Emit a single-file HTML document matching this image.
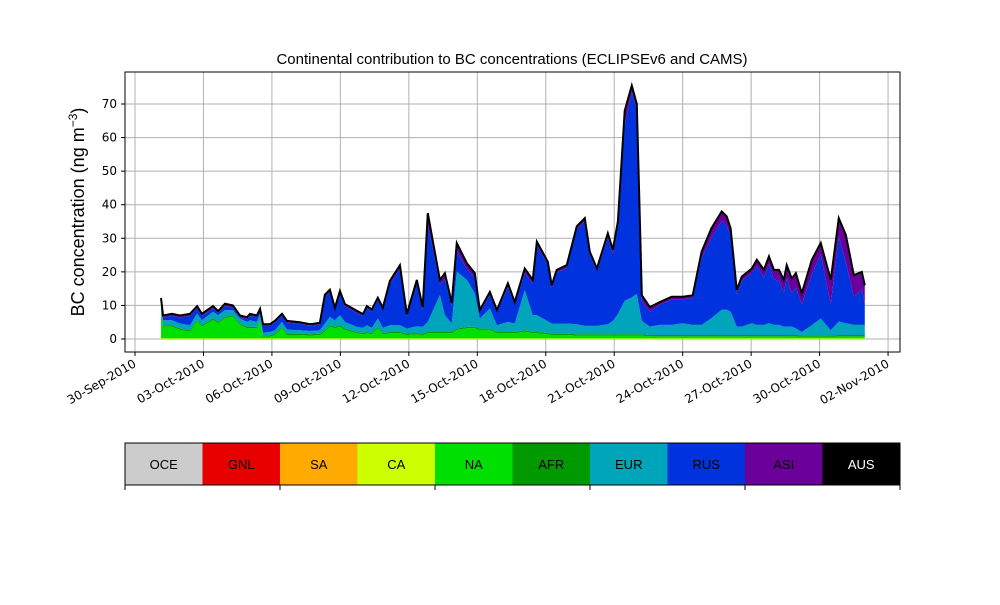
<!DOCTYPE html>
<html><head><meta charset="utf-8"><style>
body{margin:0;background:#fff}
svg{font-family:"Liberation Sans","DejaVu Sans",sans-serif}
</style></head><body>
<svg id="chart" width="1000" height="600" viewBox="0 0 1000 600">
<rect width="1000" height="600" fill="#fff"/>
<g id="plot"></g>
<text x="512" y="64" text-anchor="middle" font-size="15">Continental contribution to BC concentrations (ECLIPSEv6 and CAMS)</text>
<text transform="translate(84,212) rotate(-90)" text-anchor="middle" font-size="18">BC concentration (ng m<tspan baseline-shift="super" font-size="12">−3</tspan>)</text>
<g id="legend"></g>
</svg>
<script>
const times=[1.14,1.23,1.62,1.97,2.41,2.72,2.93,3.42,3.64,3.94,4.29,4.60,4.91,5.04,5.34,5.48,5.61,5.91,6.13,6.44,6.66,7.23,7.67,8.10,8.32,8.54,8.76,8.98,9.20,9.72,9.99,10.16,10.38,10.64,10.86,11.17,11.61,11.91,12.35,12.61,12.83,13.36,13.58,13.88,14.10,14.54,14.89,15.11,15.55,15.86,16.34,16.64,17.08,17.43,17.61,18.09,18.26,18.48,18.92,19.36,19.71,19.93,20.24,20.72,20.94,21.16,21.46,21.77,21.99,22.21,22.56,23.00,23.52,24.00,24.44,24.83,25.26,25.71,25.93,26.10,26.37,26.59,27.03,27.25,27.56,27.78,28.00,28.22,28.43,28.56,28.78,28.96,29.22,29.66,30.05,30.49,30.84,31.15,31.50,31.85,31.98];
const naVals=[8,3.5,3.5,2.5,2,5,3.5,5.5,4.5,6,6.5,4,3,3,3,5,0.5,0.5,1,3,1,1,0.8,1,2,3.5,3,3.5,2.5,1.5,1.2,1.5,1.2,3,1.2,1.5,1.5,1,1.2,1,1.5,1.5,1.5,1.5,2.5,3,3,2.5,2.5,1.5,1.5,1.5,2,1.5,1.5,1.2,1,1,1,0.8,0.8,0.8,0.8,0.8,0.8,0.8,0.8,0.8,0.8,0.8,0.6,0.6,0.6,0.6,0.6,0.6,0.6,0.6,0.6,0.6,0.6,0.6,0.6,0.6,0.6,0.6,0.6,0.6,0.6,0.6,0.6,0.6,0.5,0.5,0.5,0.5,0.6,0.6,0.6,0.6,0.6];
const eurVals=[2,1.5,1.5,1.5,1.5,2,1.5,2,2,2,1.5,1.5,1.5,2,1.5,2,0.8,1,1,1.5,1.2,1,1,1,2,2.5,2,3,2,1.5,1.5,2,1.5,2.5,1.5,2,2,1.5,2,2,3,11,5,2.5,17,14,10,3,6,2,3,2.5,12,5,5,3.5,3,3,3,3,2.5,2.5,2.5,3,4,6,10,11,12,4,2.5,3,3,3.5,3,3,5,7.5,7.5,7,2.5,2.5,3.5,3,3,3.5,3,3,2.5,2.5,2.5,2,1,3,5,1.5,4,3.5,3,3,3];
const rusVals=[1.0,0.9,1.3,1.8,2.8,1.6,1.3,1.1,0.6,1.2,0.7,0.3,0.8,1.3,1.3,0.8,2.0,1.8,2.3,1.9,2.1,1.9,1.5,1.7,7.9,7.4,3.1,6.5,4.6,4.2,3.5,5.1,4.9,5.5,5.4,12.3,16.8,3.7,12.9,5.2,29.1,3.2,10.7,5.3,6.2,3.2,4.7,1.9,4,3.8,10.4,5.6,5.1,9.4,20.8,16.9,10.7,15.2,16.6,28.3,31.2,21.3,16.3,25.8,19.9,26.3,52.3,61.3,54.8,5.8,4.5,6,7.6,7.1,8,20,24,26.5,25,22.5,9.6,13.6,15,17.6,14.1,17.6,13.6,13.1,10.1,14.5,10,12.1,8.2,15.2,19.2,7.7,25.5,18,8.5,10.5,6.5];
const asiVals=[0.3,0.2,0.3,0.3,0.3,0.3,0.3,0.3,0.3,0.4,0.4,0.3,0.3,0.3,0.3,0.3,0.2,0.2,0.2,0.2,0.2,0.2,0.2,0.2,0.4,0.4,0.3,0.4,0.4,0.3,0.3,0.3,0.3,0.4,0.3,0.6,0.8,0.3,0.6,0.4,3,1,1.5,0.5,2,1.5,1,0.3,0.6,0.4,0.8,0.5,1,0.8,0.8,0.5,0.4,0.5,0.5,0.6,0.6,0.5,0.5,1,1,1,4,1.5,1.5,1.5,1,0.5,0.5,0.5,0.5,1.5,2.5,2.5,2.5,2,1,1,1,1.5,2,2,2.5,3,3.5,3.5,4,4,3,4,3,7,5,8,6,5,5];
const caVals=times.map(()=>0.2);
const afrVals=times.map(()=>0.4);
const ausVals=times.map(()=>0.3);
const yTicks=[0,10,20,30,40,50,60,70];
const xTickDays=[0,3,6,9,12,15,18,21,24,27,30,33];
const xTickLabels=["30-Sep-2010","03-Oct-2010","06-Oct-2010","09-Oct-2010","12-Oct-2010","15-Oct-2010","18-Oct-2010","21-Oct-2010","24-Oct-2010","27-Oct-2010","30-Oct-2010","02-Nov-2010"];
const legendNames=["OCE","GNL","SA","CA","NA","AFR","EUR","RUS","ASI","AUS"];
const legendColors=["#cccccc","#e60000","#ffaa00","#ccff00","#00e000","#009a00","#00a4bb","#0033dd","#6a0099","#000000"];

const NS="http://www.w3.org/2000/svg";
const L=125,R=900,T=72,B=352;
const xs=d=>135+d*22.82;
const ys=v=>339-v*3.357;
function mk(tag,attrs,parent){const e=document.createElementNS(NS,tag);for(const k in attrs)e.setAttribute(k,attrs[k]);parent.appendChild(e);return e;}
const plot=document.getElementById('plot');
yTicks.forEach(v=>{
  const g=mk('line',{x1:L,x2:R,y1:ys(v),y2:ys(v),stroke:'#b0b0b0','stroke-width':1},plot);
  
  
  const t=mk('line',{x1:L-4,x2:L,y1:ys(v),y2:ys(v),stroke:'#000'},plot);
  
  
  const lb=mk('text',{x:L-8,y:ys(v)+4,'text-anchor':'end','font-size':12,'font-family':'DejaVu Sans, sans-serif'},plot);
  lb.textContent=v;
  
  
});
xTickDays.forEach((d,i)=>{
  const g=mk('line',{x1:xs(d),x2:xs(d),y1:T,y2:B,stroke:'#b0b0b0','stroke-width':1},plot);
  
  
  const t=mk('line',{x1:xs(d),x2:xs(d),y1:B,y2:B+4,stroke:'#000'},plot);
  
  
  const lb=mk('text',{transform:`translate(${xs(d)+2},${B+14}) rotate(-30)`,'text-anchor':'end','font-size':12,'font-family':'DejaVu Sans, sans-serif'},plot);
  lb.textContent=xTickLabels[i];
  
  
});
const series=[caVals,naVals,afrVals,eurVals,rusVals,asiVals,ausVals];
const sNames=["CA","NA","AFR","EUR","RUS","ASI","AUS"];
const sColors=["#ccff00","#00e000","#009a00","#00a4bb","#0033dd","#6a0099","#000000"];
let base=times.map(()=>0);
series.forEach((s,k)=>{
  const top=base.map((b,i)=>b+s[i]);
  let d='M'+times.map((t,i)=>xs(t)+','+ys(top[i])).join('L');
  for(let i=times.length-1;i>=0;i--)d+='L'+xs(times[i])+','+ys(base[i]);
  d+='Z';
  const p=mk('path',{d:d,fill:sColors[k]},plot);
  
  
  base=top;
});
const tl=mk('path',{d:'M'+times.map((t,i)=>xs(t)+','+ys(base[i])).join('L'),fill:'none',stroke:'#000','stroke-width':2},plot);


const fr=mk('rect',{x:L,y:T,width:R-L,height:B-T,fill:'none',stroke:'#000','stroke-width':1},plot);


const leg=document.getElementById('legend');
const cw=(R-L)/legendNames.length;
legendNames.forEach((n,i)=>{
  const r=mk('rect',{x:L+i*cw,y:443,width:cw+0.5,height:42,fill:legendColors[i]},leg);
  
  
  const t=mk('text',{x:L+i*cw+cw/2,y:469,'text-anchor':'middle','font-size':13,fill:n==='AUS'?'#fff':'#000'},leg);
  t.textContent=n;
  
  
});
const lf=mk('rect',{x:L,y:443,width:R-L,height:42,fill:'none',stroke:'#000'},leg);


for(let i=0;i<=legendNames.length;i+=2){
  const t=mk('line',{x1:L+i*cw,x2:L+i*cw,y1:485,y2:490,stroke:'#000'},leg);
  
  
}
</script>
</body></html>
